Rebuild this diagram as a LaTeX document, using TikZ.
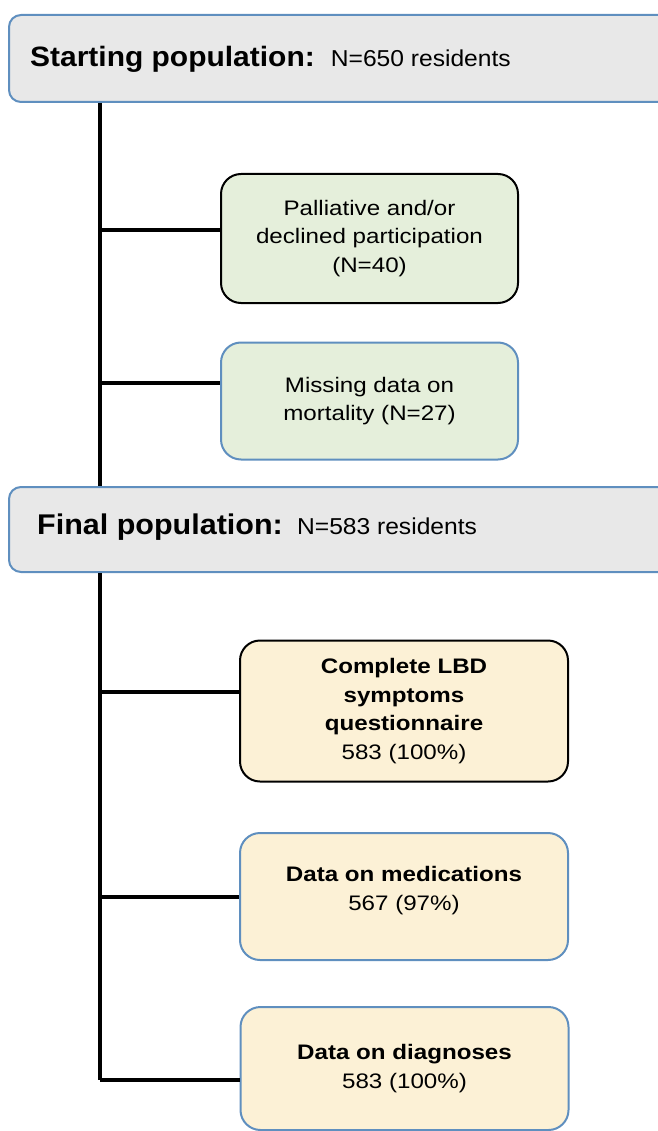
\documentclass[tikz,border=0pt]{standalone}
\usepackage{fontspec}
\setmainfont{Liberation Sans}[FakeStretch=1.15]
\newfontfamily\headfont{Liberation Sans}[FakeStretch=1.07]
\usepackage{xcolor}
\usepackage{tikz}

\definecolor{popgray}{HTML}{E8E8E8}
\definecolor{edgeblue}{HTML}{5F8FBF}
\definecolor{exclgreen}{HTML}{E5EFDB}
\definecolor{dataamber}{HTML}{FCF1D6}

\begin{document}
\begin{tikzpicture}[x=1pt,y=-1pt,
  popbox/.style={draw=edgeblue, fill=popgray, line width=2pt, rounded corners=12pt,
    inner sep=0pt, minimum width=680pt},
  poptext/.style={anchor=base west, inner sep=0pt, font=\headfont},
  databox/.style={line width=2pt, rounded corners=20pt, align=center, inner sep=0pt,
    font=\fontsize{21}{28.5}\selectfont},
  exclbox/.style={databox, fill=exclgreen, minimum width=297pt},
  keepbox/.style={databox, fill=dataamber, minimum width=328pt},
  branch/.style={line width=3.5pt}]

  \useasboundingbox (0,0) rectangle (657,1131);

  % population boxes (they run past the right edge)
  \node[popbox, minimum height=87pt, anchor=north west] (start) at (8,14) {};
  \node[poptext] (starttext) at (30,67)
    {\fontsize{28}{32}\selectfont\textbf{Starting population:}\hspace{5pt} \fontsize{23}{26}\selectfont N=650 residents};

  \node[popbox, minimum height=85pt, anchor=north west] (final) at (8,486) {};
  \node[poptext] (finaltext) at (37,534)
    {\fontsize{28.5}{32}\selectfont\textbf{Final population:}\hspace{3pt} \fontsize{23}{26}\selectfont N=583 residents};

  % excluded residents
  \node[exclbox, draw=black, minimum height=129pt] (pall) at (369.5,238.5)
    {Palliative and/or\\declined participation\\(N=40)};
  \node[exclbox, draw=edgeblue, minimum height=117pt] (miss) at (369.5,401)
    {Missing data on\\mortality (N=27)};

  % available data
  \node[keepbox, draw=black, minimum height=141pt] (lbd) at (404,711)
    {\textbf{Complete LBD}\\\textbf{symptoms}\\\textbf{questionnaire}\\583 (100\%)};
  % text sits a little above the middle here
  \node[keepbox, draw=edgeblue, minimum height=127pt] (meds) at (404,896.5)
    {\textbf{Data on medications}\\567 (97\%)\\[-12pt]};
  \node[keepbox, draw=edgeblue, minimum height=123pt] (diag) at (404.5,1068.5)
    {\textbf{Data on diagnoses}\\583 (100\%)};

  % junctions on the two spines
  \foreach \jname/\jy in {jpall/230, jmiss/383, jlbd/692, jmeds/897, jdiag/1080}
    \coordinate (\jname) at (100,\jy);

  % spines
  \draw[branch] (start.south -| jpall) -- (final.north -| jpall);
  \draw[branch] (final.south -| jlbd) -- (jdiag);

  % branches to the boxes
  \foreach \jname/\target in {jpall/pall, jmiss/miss, jlbd/lbd, jmeds/meds, jdiag/diag}
    \draw[branch] (\jname) -- (\jname -| \target.west);

\end{tikzpicture}
\end{document}
